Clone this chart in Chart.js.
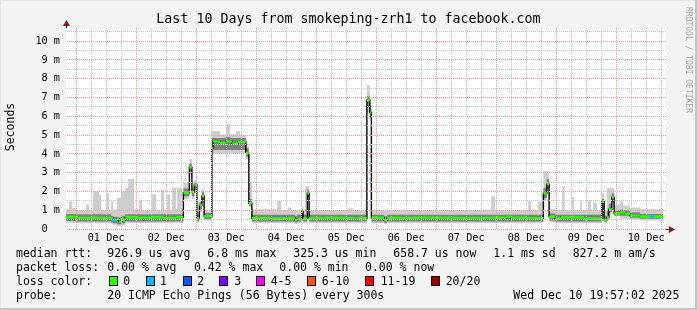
<!DOCTYPE html>
<html>
<head>
<meta charset="utf-8">
<script src="https://cdn.jsdelivr.net/npm/chart.js@4.4.1/dist/chart.umd.min.js"></script>
<style>
  body { margin: 0; background: #fff; }
  #wrap { position: relative; width: 697px; height: 310px; background: #f3f3f3; overflow: hidden;
          font-family: "DejaVu Sans Mono", monospace; color: #000; }
  #c { position: absolute; left: 0; top: 0; }
  .t { position: absolute; white-space: pre; line-height: 1; font-size: 11.5px; }
  .box { position: absolute; width: 9px; height: 10px; box-sizing: border-box; border: 1px solid #000; }
  .edgeT { position: absolute; left: 0; top: 0; width: 697px; height: 1px; background: #e4e4e4; }
  .edgeL { position: absolute; left: 0; top: 0; width: 1px; height: 310px; background: #e4e4e4; }
  .edgeR { position: absolute; right: 0; top: 0; width: 2px; height: 310px; background: #c4c4c4; }
  .edgeB { position: absolute; left: 0; bottom: 0; width: 697px; height: 2px; background: #c4c4c4; }
</style>
</head>
<body>
<div id="wrap">
  <canvas id="c" width="697" height="310"></canvas>

  <div class="t" style="left:0;width:697px;text-align:center;top:12px;font-size:13.3px">Last 10 Days from smokeping-zrh1 to facebook.com</div>
  <div class="t" style="left:11px;top:127px;transform:translate(-50%,-50%) rotate(-90deg)">Seconds</div>
  <div class="t" style="left:688px;top:60px;font-size:8px;color:#a8a8a8;transform:translate(-50%,-50%) rotate(90deg)">RRDTOOL / TOBI OETIKER</div>

  <div class="t" style="left:16px;top:248px">median rtt:</div>
  <div class="t" style="left:107.3px;top:248px">926.9 us avg</div>
  <div class="t" style="left:207.3px;top:248px">6.8 ms max</div>
  <div class="t" style="left:293.3px;top:248px">325.3 us min</div>
  <div class="t" style="left:393.3px;top:248px">658.7 us now</div>
  <div class="t" style="left:493.3px;top:248px">1.1 ms sd</div>
  <div class="t" style="left:572.7px;top:248px">827.2 m am/s</div>

  <div class="t" style="left:16px;top:262px">packet loss:</div>
  <div class="t" style="left:107.3px;top:262px">0.00 % avg</div>
  <div class="t" style="left:194px;top:262px">0.42 % max</div>
  <div class="t" style="left:279.3px;top:262px">0.00 % min</div>
  <div class="t" style="left:365px;top:262px">0.00 % now</div>

  <div class="t" style="left:16px;top:276px">loss color:</div>
  <div class="box" style="left:108.5px;top:276px;background:#26ff00"></div><div class="t" style="left:123.3px;top:276px">0</div>
  <div class="box" style="left:145.7px;top:276px;background:#00b8ff"></div><div class="t" style="left:160px;top:276px">1</div>
  <div class="box" style="left:182.7px;top:276px;background:#0059ff"></div><div class="t" style="left:197.3px;top:276px">2</div>
  <div class="box" style="left:219.3px;top:276px;background:#7e00ff"></div><div class="t" style="left:234.3px;top:276px">3</div>
  <div class="box" style="left:256px;top:276px;background:#ff00ff"></div><div class="t" style="left:270.7px;top:276px">4-5</div>
  <div class="box" style="left:307px;top:276px;background:#ff5500"></div><div class="t" style="left:321.7px;top:276px">6-10</div>
  <div class="box" style="left:365px;top:276px;background:#ff0000"></div><div class="t" style="left:380.7px;top:276px">11-19</div>
  <div class="box" style="left:430.7px;top:276px;background:#a00000"></div><div class="t" style="left:445.7px;top:276px">20/20</div>

  <div class="t" style="left:16px;top:290px">probe:</div>
  <div class="t" style="left:107.3px;top:290px">20 ICMP Echo Pings (56 Bytes) every 300s</div>
  <div class="t" style="left:513.3px;top:290px">Wed Dec 10 19:57:02 2025</div>

  <div class="edgeT"></div>
  <div class="edgeL"></div>
  <div class="edgeR"></div>
  <div class="edgeB"></div>
</div>

<script>
// time axis: hours since 01 Dec 00:00 (graph covers Nov 30 19:57 .. Dec 10 19:57)
const xStart = -4.05;
const xEnd = 235.95;
const dayLabels = ["01 Dec", "02 Dec", "03 Dec", "04 Dec", "05 Dec", "06 Dec", "07 Dec", "08 Dec", "09 Dec", "10 Dec"];
const yTickLabels = ["0  ", "1 m", "2 m", "3 m", "4 m", "5 m", "6 m", "7 m", "8 m", "9 m", "10 m"];

// smoke (ping spread), ms, each value holds until the next time
const smokeT = [-4.05, -2.8, -1.6, 0, 4, 5.2, 6.8, 9.2, 10, 12,
  13.2, 14, 14.8, 16.4, 18, 19.6, 20.8, 23.2, 25.2, 26.4,
  30.4, 32, 34, 35.2, 36.4, 37.6, 38.4, 40, 40.4, 42,
  42.9, 45.3, 46.3, 47.3, 48.3, 49.3, 50.3, 51.2, 54.3, 57.6,
  60, 61.6, 64, 65.6, 67.9, 69.1, 70.3, 80.4, 82, 84.8,
  86, 87.5, 88.5, 90.3, 90.8, 91.6, 92.5, 93.2, 108.8, 110.8,
  116.3, 117.5, 118.1, 123.2, 124.4, 166, 167.6, 180.8, 182, 184.8,
  186.9, 188.3, 189.2, 191.6, 194.4, 195.4, 198.4, 199.2, 201.6, 202.4,
  204.8, 206, 206.8, 208.4, 210.3, 211.2, 212.3, 213.1, 214.3, 215.2,
  217.6, 218.8, 221.6, 225.6, 234.8];
const smokeLow = [0.3, 0.3, 0.3, 0.3, 0.3, 0.3, 0.3, 0.3, 0.3, 0.3,
  0.3, 0.25, 0.2, 0.15, 0.2, 0.3, 0.3, 0.3, 0.3, 0.3,
  0.3, 0.3, 0.3, 0.3, 0.3, 0.3, 0.3, 0.3, 0.3, 0.3,
  1.6, 2.9, 1.6, 1.9, 0.35, 0.9, 1.4, 0.45, 4.0, 4.0,
  4.05, 4.05, 4.05, 4.05, 3.7, 1.15, 0.3, 0.3, 0.3, 0.3,
  0.3, 0.25, 0.3, 0.65, 0.3, 0.3, 1.6, 0.3, 0.3, 0.3,
  6.2, 5.85, 0.3, 0.25, 0.3, 0.3, 0.3, 0.3, 0.3, 0.3,
  1.5, 2.0, 0.35, 0.3, 0.3, 0.3, 0.3, 0.3, 0.3, 0.3,
  0.3, 0.3, 0.3, 0.3, 0.5, 0.3, 0.45, 0.8, 1.3, 0.68,
  0.55, 0.55, 0.5, 0.45, 0.45];
const smokeHigh = [1.05, 1.47, 1.1, 1.0, 1.3, 1.0, 2.0, 1.83, 1.0, 1.9,
  1.0, 1.47, 1.0, 1.65, 2.0, 2.2, 2.66, 1.05, 1.56, 1.0,
  1.83, 1.0, 2.1, 1.0, 1.83, 1.0, 2.2, 1.05, 2.2, 1.1,
  2.45, 3.72, 2.3, 2.6, 0.9, 1.5, 2.1, 0.95, 5.2, 5.0,
  5.6, 5.05, 5.2, 5.0, 4.5, 2.5, 1.05, 1.5, 1.0, 1.15,
  1.0, 1.0, 1.0, 1.2, 1.0, 2.27, 2.27, 1.0, 1.1, 1.0,
  7.65, 6.6, 1.0, 1.0, 1.0, 1.74, 1.0, 1.5, 1.0, 1.45,
  3.07, 3.07, 1.05, 1.0, 2.27, 1.0, 1.7, 1.0, 1.5, 1.0,
  1.55, 1.0, 1.4, 1.0, 1.9, 1.0, 2.18, 2.18, 2.18, 1.3,
  1.5, 1.25, 1.15, 1.05, 1.05];
const coreLow = [0.42, 0.42, 0.42, 0.4, 0.4, 0.4, 0.4, 0.4, 0.4, 0.4,
  0.4, 0.35, 0.3, 0.25, 0.3, 0.4, 0.4, 0.4, 0.4, 0.4,
  0.4, 0.4, 0.4, 0.4, 0.4, 0.4, 0.4, 0.4, 0.4, 0.4,
  1.75, 3.05, 1.75, 2.1, 0.42, 1.05, 1.55, 0.52, 4.2, 4.2,
  4.2, 4.2, 4.2, 4.2, 3.85, 1.25, 0.4, 0.4, 0.4, 0.4,
  0.4, 0.35, 0.4, 0.75, 0.4, 0.4, 1.7, 0.4, 0.4, 0.4,
  6.5, 5.95, 0.4, 0.33, 0.4, 0.4, 0.4, 0.4, 0.4, 0.4,
  1.65, 2.15, 0.45, 0.4, 0.4, 0.4, 0.4, 0.4, 0.4, 0.4,
  0.4, 0.4, 0.4, 0.4, 0.7, 0.38, 0.55, 0.9, 1.45, 0.72,
  0.7, 0.7, 0.6, 0.55, 0.55];
const coreHigh = [0.8, 0.8, 0.8, 0.78, 0.78, 0.78, 0.78, 0.78, 0.78, 0.78,
  0.78, 0.7, 0.65, 0.62, 0.7, 0.78, 0.78, 0.78, 0.78, 0.78,
  0.78, 0.78, 0.78, 0.78, 0.78, 0.78, 0.78, 0.78, 0.78, 0.78,
  2.15, 3.5, 2.15, 2.5, 0.75, 1.42, 1.95, 0.85, 4.85, 4.85,
  4.9, 4.85, 4.85, 4.85, 4.3, 1.6, 0.76, 0.76, 0.76, 0.76,
  0.76, 0.7, 0.76, 1.05, 0.76, 0.76, 2.1, 0.76, 0.76, 0.76,
  7.05, 6.4, 0.76, 0.68, 0.76, 0.76, 0.76, 0.76, 0.76, 0.76,
  2.2, 2.65, 0.82, 0.76, 0.76, 0.76, 0.76, 0.76, 0.76, 0.76,
  0.76, 0.76, 0.76, 0.76, 1.6, 0.7, 1.0, 1.35, 1.9, 1.0,
  1.02, 1.0, 0.88, 0.8, 0.8];

// median rtt, ms (step changes)
const medT = [-4.05, 0.8, 5, 10, 14.8, 16.4, 17.2, 18.4, 19.6, 25,
  30, 35, 40, 42.9, 45.3, 46.3, 47.3, 48.3, 49.3, 50.3,
  51.2, 54.3, 54.8, 57.6, 60, 62.4, 64.8, 67.9, 69.1, 70.3,
  78, 85, 87.5, 88.5, 90.3, 90.8, 92.5, 93.2, 100, 108,
  116.3, 117.5, 118.1, 123.2, 124.4, 135, 150, 165, 172, 174,
  180, 186.9, 188.3, 189.2, 191.6, 194, 203.2, 210.3, 211.2, 212.3,
  213.1, 214.3, 215.2, 217.6, 219.6, 221.6, 225.6, 234.8];
const medV = [0.63, 0.58, 0.6, 0.58, 0.48, 0.55, 0.4, 0.5, 0.62, 0.6,
  0.62, 0.58, 0.62, 1.93, 3.28, 1.98, 2.34, 0.57, 1.28, 1.75,
  0.69, 4.29, 4.66, 4.58, 4.66, 4.55, 4.63, 4.03, 1.37, 0.57,
  0.55, 0.58, 0.48, 0.53, 0.92, 0.55, 1.9, 0.58, 0.6, 0.57,
  6.86, 6.2, 0.6, 0.48, 0.58, 0.6, 0.58, 0.6, 0.65, 0.6,
  0.57, 1.9, 2.39, 0.65, 0.55, 0.62, 0.55, 1.45, 0.48, 0.62,
  1.05, 1.69, 0.83, 0.88, 0.82, 0.72, 0.66, 0.66];

// samples with 1 lost ping
const lossT = [15.2, 230.4];
const lossV = [0.48, 0.66];

const pts = (xs, ys) => xs.map((x, i) => ({ x: x, y: ys[i] }));

// green pieces only on the flat parts of the median
const greenData = [];
for (let i = 0; i < medT.length - 1; i++) {
  greenData.push({ x: medT[i], y: medV[i] }, { x: medT[i + 1], y: medV[i] }, { x: medT[i + 1], y: null });
}

const xGrid = [];
for (let h = 0; h <= 234; h += 6) xGrid.push(h);
const yGrid = [];
for (let v = 0; v <= 10.5; v += 0.5) yGrid.push(v);

const font = { family: "DejaVu Sans Mono", size: 10.2 };
const band = (data, extra) => Object.assign({
  data: data, stepped: true, pointRadius: 0, borderWidth: 0,
  borderColor: "transparent", fill: false
}, extra);

const frame = {
  id: "frame",
  beforeDraw(chart) {
    const { ctx, chartArea: a } = chart;
    ctx.save();
    ctx.fillStyle = "#fff";
    ctx.fillRect(a.left, a.top, a.right - a.left, a.bottom - a.top);
    ctx.restore();
  },
  afterDraw(chart) {
    const { ctx, chartArea: a } = chart;
    ctx.save();
    ctx.strokeStyle = "#000";
    ctx.lineWidth = 1;
    ctx.beginPath();
    ctx.moveTo(a.left + 0.5, a.top); ctx.lineTo(a.left + 0.5, a.top - 3);
    ctx.moveTo(a.right, a.bottom + 0.5); ctx.lineTo(a.right + 4, a.bottom + 0.5);
    ctx.stroke();
    ctx.fillStyle = "#8b1a1a";
    ctx.beginPath();
    ctx.moveTo(a.left + 0.5, a.top - 8); ctx.lineTo(a.left - 3, a.top - 2); ctx.lineTo(a.left + 4, a.top - 2);
    ctx.closePath(); ctx.fill();
    ctx.beginPath();
    ctx.moveTo(a.right + 9, a.bottom + 0.5); ctx.lineTo(a.right + 3, a.bottom - 3); ctx.lineTo(a.right + 3, a.bottom + 4);
    ctx.closePath(); ctx.fill();
    ctx.restore();
  }
};

new Chart(document.getElementById("c"), {
  type: "line",
  data: {
    datasets: [
      band(pts(smokeT, smokeLow), { order: 10 }),
      band(pts(smokeT, smokeHigh), { order: 9, fill: 0, backgroundColor: "#cdcdcd" }),
      band(pts(smokeT, coreLow), { order: 8 }),
      band(pts(smokeT, coreHigh), { order: 7, fill: 2, backgroundColor: "#7f7f7f" }),
      { data: pts(medT, medV), stepped: true, borderColor: "#000", borderWidth: 1.4, pointRadius: 0, fill: false, order: 3 },
      { data: greenData, borderColor: "#26ff00", borderWidth: 2.6, pointRadius: 0, fill: false, spanGaps: false, order: 2 },
      { data: pts(lossT, lossV), showLine: false, pointStyle: "line", pointRadius: 2.2, borderWidth: 2.6,
        borderColor: "#00b8ff", pointBorderColor: "#00b8ff", order: 1 }
    ]
  },
  options: {
    responsive: false,
    animation: false,
    devicePixelRatio: 1,
    layout: { padding: { left: 0, top: 28, right: 31, bottom: 61 } },
    plugins: { legend: { display: false }, tooltip: { enabled: false } },
    scales: {
      x: {
        type: "linear", min: xStart, max: xEnd,
        afterBuildTicks: s => { s.ticks = xGrid.map(v => ({ value: v })); },
        afterFit: s => { s.height = 20; },
        grid: { z: 1, drawTicks: false, lineWidth: 1,
                color: c => (c.tick && c.tick.value % 24 === 0) ? "#f09a9a" : "#cacaca" },
        border: { color: "#000", width: 1, dash: [1, 1] },
        ticks: {
          autoSkip: false, maxRotation: 0, padding: 3, color: "#000", font: font,
          callback: v => (v % 24 === 12) ? dayLabels[(v - 12) / 24] : ""
        }
      },
      y: {
        min: 0, max: 10.7,
        afterBuildTicks: s => { s.ticks = yGrid.map(v => ({ value: v })); },
        afterFit: s => { s.width = 66; },
        grid: { z: 1, drawTicks: false, lineWidth: 1,
                color: c => (c.tick && Number.isInteger(c.tick.value)) ? "#f09a9a" : "#cacaca" },
        border: { color: "#555", width: 1, dash: [1, 1] },
        ticks: {
          autoSkip: false, padding: 6, color: "#000", font: font,
          callback: v => Number.isInteger(v) ? yTickLabels[v] : ""
        }
      }
    }
  },
  plugins: [frame]
});
</script>
</body>
</html>
